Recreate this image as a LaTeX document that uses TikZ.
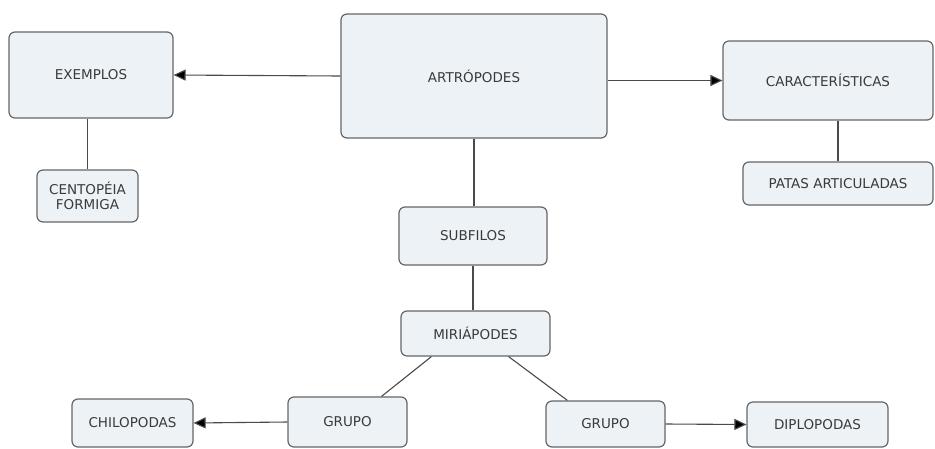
\documentclass[tikz,border=0pt]{standalone}
\usepackage{fontspec}
\setmainfont{DejaVu Sans}
\usetikzlibrary{arrows.meta}
\definecolor{boxfill}{HTML}{EDF2F6}
\definecolor{boxdraw}{HTML}{666666}
\definecolor{txt}{HTML}{3A3A3A}
\definecolor{linec}{HTML}{4A4A4A}
\tikzset{
  cbox/.style={draw=boxdraw, line width=1.2pt, fill=boxfill, rounded corners=6pt,
    inner sep=0pt, align=center, text=txt, font=\fontsize{13.5}{15}\selectfont},
  link/.style={draw=linec, line width=1.1pt},
  arr/.style={link, -{Triangle[length=12pt,width=11pt,fill=black]}}
}
\begin{document}
\begin{tikzpicture}[x=1pt,y=-1pt]
\useasboundingbox (0,0) rectangle (935,448);
\node[cbox, minimum width=164pt, minimum height=86pt] (EX) at (91,75) {EXEMPLOS};
\node[cbox, minimum width=101pt, minimum height=52pt] (CE) at (87.5,196) {CENTOPÉIA\\FORMIGA};
\node[cbox, minimum width=266pt, minimum height=124pt] (AR) at (474,76) {ARTRÓPODES};
\node[cbox, minimum width=210pt, minimum height=79pt] (CA) at (828,80.5) {CARACTERÍSTICAS};
\node[cbox, minimum width=190pt, minimum height=43pt] (PA) at (838,183.5) {PATAS ARTICULADAS};
\node[cbox, minimum width=148pt, minimum height=58pt] (SU) at (473,236) {SUBFILOS};
\node[cbox, minimum width=149pt, minimum height=45pt] (MI) at (475.5,333.5) {MIRIÁPODES};
\node[cbox, minimum width=119pt, minimum height=50pt] (G1) at (347.5,422) {GRUPO};
\node[cbox, minimum width=121pt, minimum height=48pt] (CH) at (132.5,423) {CHILOPODAS};
\node[cbox, minimum width=119pt, minimum height=46pt] (G2) at (605.5,424) {GRUPO};
\node[cbox, minimum width=141pt, minimum height=45pt] (DI) at (817.5,424.5) {DIPLOPODAS};

\draw[arr] (AR.west) -- (EX.east);
\draw[arr] (AR.east |- CA.west) -- (CA.west);
\draw[link] (CE.north |- EX.south) -- (CE.north);
\draw[link] (PA.north |- CA.south) -- (PA.north);
\draw[link] (AR.south) -- (AR.south |- SU.north);
\draw[link] (SU.south) -- (SU.south |- MI.north);
\draw[link] ([xshift=31pt]MI.south west) -- ([xshift=34pt]G1.north);
\draw[link] ([xshift=-42pt]MI.south east) -- ([xshift=22pt]G2.north west);
\draw[arr] (G1.west) -- (CH.east);
\draw[arr] (G2.east) -- (DI.west);
\end{tikzpicture}
\end{document}
